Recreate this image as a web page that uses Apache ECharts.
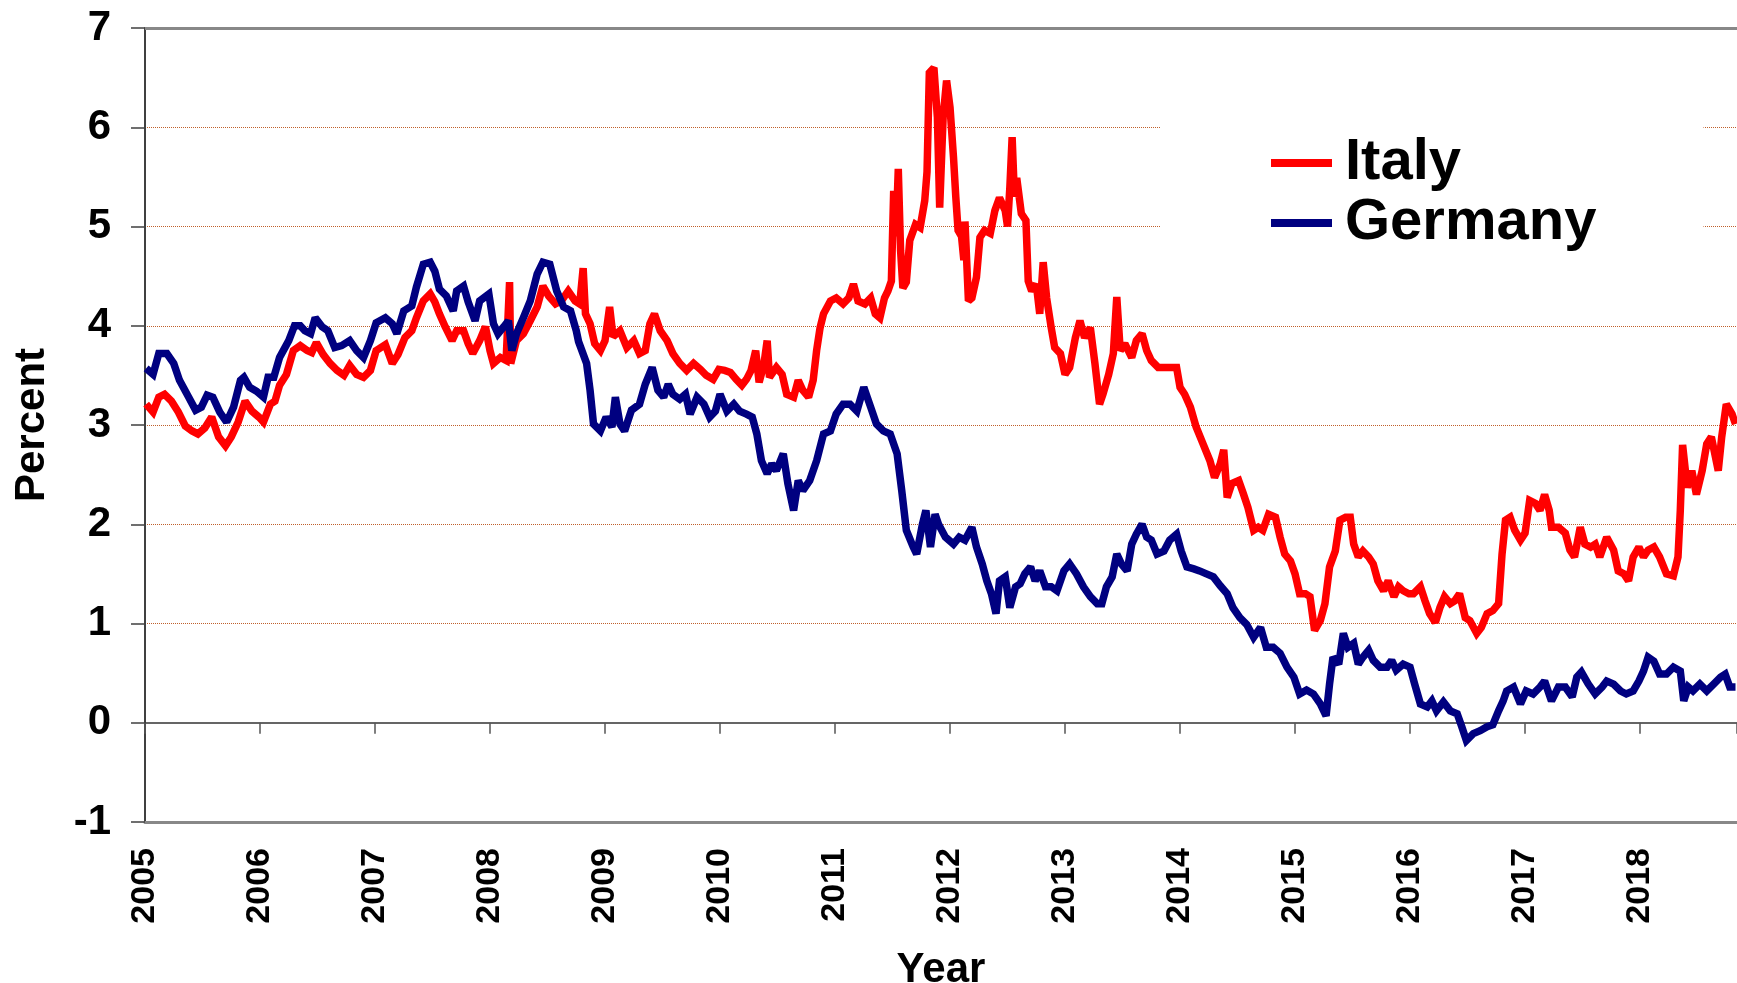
<!DOCTYPE html>
<html>
<head>
<meta charset="utf-8">
<title>Italy vs Germany</title>
<script src="https://cdn.jsdelivr.net/npm/echarts@6/dist/echarts.min.js"></script>
<style>
  html, body { margin: 0; padding: 0; background: #fff; }
  #chart { width: 1737px; height: 983px; }
</style>
</head>
<body>
<div id="chart"></div>
<script>
var seriesNames = ['Italy', 'Germany'];
var yearLabels = [2005, 2006, 2007, 2008, 2009, 2010, 2011, 2012, 2013, 2014, 2015, 2016, 2017, 2018];
var percentTicks = [-1, 0, 1, 2, 3, 4, 5, 6, 7];

// [year, percent]
var italy = [
  [2005.01,3.21],[2005.07,3.13],[2005.12,3.28],[2005.17,3.31],[2005.23,3.24],[2005.29,3.13],[2005.35,2.99],[2005.41,2.94],
  [2005.46,2.91],[2005.52,2.97],[2005.58,3.08],[2005.64,2.88],[2005.70,2.79],[2005.75,2.88],[2005.81,3.03],[2005.87,3.24],
  [2005.93,3.14],[2005.99,3.08],[2006.03,3.03],[2006.09,3.21],[2006.13,3.24],[2006.17,3.40],[2006.23,3.51],[2006.29,3.75],
  [2006.35,3.80],[2006.41,3.75],[2006.45,3.73],[2006.49,3.83],[2006.55,3.71],[2006.61,3.62],[2006.67,3.55],[2006.73,3.50],
  [2006.78,3.60],[2006.84,3.51],[2006.90,3.48],[2006.96,3.55],[2007.01,3.75],[2007.09,3.81],[2007.15,3.62],[2007.20,3.71],
  [2007.26,3.88],[2007.32,3.95],[2007.36,4.08],[2007.42,4.25],[2007.48,4.32],[2007.52,4.24],[2007.56,4.12],[2007.61,3.99],
  [2007.67,3.85],[2007.71,3.95],[2007.77,3.95],[2007.81,3.82],[2007.85,3.72],[2007.91,3.85],[2007.96,3.99],[2008.00,3.75],
  [2008.03,3.62],[2008.09,3.68],[2008.14,3.65],[2008.17,4.44],[2008.18,3.62],[2008.23,3.85],[2008.29,3.92],[2008.35,4.05],
  [2008.41,4.19],[2008.46,4.40],[2008.51,4.30],[2008.57,4.22],[2008.62,4.25],[2008.68,4.35],[2008.74,4.25],[2008.78,4.22],
  [2008.81,4.58],[2008.83,4.12],[2008.87,4.02],[2008.91,3.82],[2008.96,3.75],[2009.00,3.85],[2009.04,4.19],[2009.07,3.89],
  [2009.13,3.95],[2009.19,3.78],[2009.25,3.85],[2009.30,3.72],[2009.35,3.75],[2009.39,4.02],[2009.43,4.12],[2009.48,3.95],
  [2009.54,3.85],[2009.59,3.72],[2009.65,3.62],[2009.71,3.55],[2009.77,3.62],[2009.83,3.56],[2009.88,3.50],[2009.94,3.46],
  [2009.99,3.56],[2010.04,3.55],[2010.09,3.53],[2010.14,3.46],[2010.19,3.40],[2010.23,3.46],[2010.27,3.55],[2010.31,3.75],
  [2010.34,3.43],[2010.38,3.60],[2010.41,3.85],[2010.43,3.48],[2010.49,3.58],[2010.54,3.51],[2010.58,3.31],[2010.64,3.28],
  [2010.68,3.45],[2010.72,3.35],[2010.77,3.28],[2010.81,3.45],[2010.84,3.75],[2010.87,3.98],[2010.90,4.12],[2010.96,4.25],
  [2011.01,4.28],[2011.07,4.22],[2011.12,4.28],[2011.16,4.42],[2011.20,4.25],[2011.26,4.22],[2011.31,4.28],[2011.35,4.12],
  [2011.39,4.08],[2011.43,4.28],[2011.46,4.35],[2011.49,4.45],[2011.51,5.36],[2011.53,4.90],[2011.55,5.58],[2011.57,4.76],
  [2011.59,4.38],[2011.62,4.44],[2011.65,4.86],[2011.70,5.02],[2011.74,4.99],[2011.78,5.26],[2011.80,5.55],[2011.82,6.55],
  [2011.86,6.60],[2011.89,6.10],[2011.91,5.19],[2011.94,6.10],[2011.97,6.47],[2012.00,6.20],[2012.03,5.70],[2012.05,5.30],
  [2012.07,4.96],[2012.10,4.90],[2012.12,4.66],[2012.13,5.05],[2012.16,4.25],[2012.19,4.28],[2012.23,4.49],[2012.26,4.89],
  [2012.30,4.96],[2012.35,4.93],[2012.39,5.16],[2012.43,5.29],[2012.48,5.16],[2012.50,5.00],[2012.52,5.39],[2012.54,5.90],
  [2012.56,5.30],[2012.58,5.49],[2012.62,5.13],[2012.66,5.06],[2012.68,4.45],[2012.71,4.35],[2012.75,4.42],[2012.78,4.12],
  [2012.81,4.64],[2012.84,4.28],[2012.88,3.98],[2012.91,3.78],[2012.96,3.72],[2013.00,3.51],[2013.04,3.58],[2013.09,3.88],
  [2013.13,4.05],[2013.17,3.88],[2013.22,3.98],[2013.26,3.62],[2013.30,3.21],[2013.33,3.31],[2013.38,3.51],[2013.42,3.72],
  [2013.45,4.29],[2013.48,3.75],[2013.52,3.82],[2013.58,3.68],[2013.62,3.85],[2013.67,3.92],[2013.71,3.75],[2013.75,3.65],
  [2013.81,3.58],[2013.87,3.58],[2013.93,3.58],[2013.97,3.58],[2014.00,3.38],[2014.04,3.31],[2014.09,3.18],[2014.14,2.98],
  [2014.20,2.81],[2014.26,2.64],[2014.30,2.47],[2014.35,2.61],[2014.38,2.75],[2014.41,2.27],[2014.45,2.41],[2014.51,2.44],
  [2014.55,2.31],[2014.59,2.17],[2014.64,1.94],[2014.68,1.97],[2014.72,1.94],[2014.77,2.10],[2014.83,2.07],[2014.87,1.87],
  [2014.91,1.70],[2014.96,1.63],[2015.00,1.50],[2015.04,1.30],[2015.09,1.30],[2015.13,1.27],[2015.17,0.93],[2015.22,1.03],
  [2015.26,1.20],[2015.30,1.57],[2015.35,1.73],[2015.39,2.04],[2015.44,2.07],[2015.48,2.07],[2015.51,1.80],[2015.55,1.67],
  [2015.59,1.73],[2015.64,1.67],[2015.68,1.60],[2015.72,1.43],[2015.77,1.33],[2015.81,1.43],[2015.86,1.27],[2015.90,1.37],
  [2015.94,1.33],[2015.99,1.30],[2016.03,1.30],[2016.09,1.37],[2016.13,1.23],[2016.17,1.10],[2016.22,1.01],[2016.26,1.16],
  [2016.30,1.27],[2016.35,1.20],[2016.39,1.23],[2016.43,1.30],[2016.48,1.06],[2016.52,1.03],[2016.58,0.90],[2016.62,0.96],
  [2016.67,1.10],[2016.72,1.13],[2016.77,1.20],[2016.80,1.70],[2016.83,2.04],[2016.87,2.07],[2016.91,1.94],[2016.96,1.84],
  [2017.00,1.91],[2017.04,2.24],[2017.09,2.21],[2017.13,2.14],[2017.17,2.30],[2017.21,2.14],[2017.23,1.97],[2017.29,1.97],
  [2017.35,1.91],[2017.39,1.74],[2017.43,1.67],[2017.48,1.97],[2017.52,1.80],[2017.57,1.77],[2017.61,1.80],[2017.65,1.67],
  [2017.71,1.87],[2017.77,1.74],[2017.81,1.53],[2017.86,1.50],[2017.90,1.43],[2017.94,1.67],[2017.99,1.77],[2018.03,1.67],
  [2018.07,1.74],[2018.12,1.77],[2018.17,1.67],[2018.23,1.50],[2018.29,1.48],[2018.33,1.67],[2018.35,2.14],[2018.37,2.80],
  [2018.41,2.37],[2018.45,2.54],[2018.49,2.30],[2018.54,2.54],[2018.58,2.81],[2018.62,2.88],[2018.68,2.54],[2018.71,2.88],
  [2018.75,3.21],[2018.80,3.11],[2018.83,3.01]
];

var germany = [
  [2005.01,3.57],[2005.07,3.51],[2005.12,3.72],[2005.19,3.72],[2005.25,3.62],[2005.30,3.45],[2005.38,3.28],[2005.44,3.15],
  [2005.49,3.18],[2005.54,3.30],[2005.59,3.28],[2005.65,3.13],[2005.71,3.03],[2005.77,3.18],[2005.83,3.45],[2005.86,3.48],
  [2005.91,3.38],[2005.97,3.34],[2006.03,3.28],[2006.07,3.48],[2006.12,3.48],[2006.17,3.68],[2006.25,3.85],[2006.30,4.00],
  [2006.35,4.00],[2006.39,3.95],[2006.44,3.92],[2006.48,4.08],[2006.54,3.99],[2006.59,3.95],[2006.65,3.78],[2006.71,3.80],
  [2006.78,3.85],[2006.84,3.75],[2006.90,3.68],[2006.96,3.85],[2007.01,4.03],[2007.09,4.08],[2007.15,4.02],[2007.19,3.92],
  [2007.25,4.15],[2007.32,4.20],[2007.36,4.39],[2007.42,4.62],[2007.48,4.64],[2007.52,4.55],[2007.56,4.37],[2007.62,4.30],
  [2007.68,4.15],[2007.71,4.35],[2007.77,4.40],[2007.81,4.24],[2007.87,4.05],[2007.91,4.25],[2007.99,4.32],[2008.03,4.02],
  [2008.07,3.92],[2008.12,3.99],[2008.16,4.05],[2008.19,3.75],[2008.23,3.92],[2008.29,4.08],[2008.35,4.25],[2008.41,4.52],
  [2008.46,4.64],[2008.52,4.62],[2008.58,4.35],[2008.64,4.19],[2008.70,4.15],[2008.75,3.95],[2008.77,3.84],[2008.84,3.62],
  [2008.87,3.35],[2008.90,3.01],[2008.96,2.94],[2009.01,3.08],[2009.06,2.98],[2009.09,3.28],[2009.13,3.01],[2009.17,2.94],
  [2009.23,3.15],[2009.30,3.21],[2009.35,3.41],[2009.41,3.58],[2009.46,3.35],[2009.51,3.28],[2009.55,3.41],[2009.59,3.31],
  [2009.65,3.26],[2009.70,3.31],[2009.74,3.11],[2009.80,3.28],[2009.86,3.21],[2009.91,3.08],[2009.96,3.14],[2010.00,3.31],
  [2010.06,3.14],[2010.12,3.21],[2010.17,3.14],[2010.23,3.11],[2010.28,3.08],[2010.32,2.91],[2010.36,2.64],[2010.41,2.51],
  [2010.45,2.61],[2010.49,2.54],[2010.55,2.71],[2010.59,2.41],[2010.64,2.14],[2010.68,2.44],[2010.72,2.34],[2010.78,2.44],
  [2010.84,2.64],[2010.90,2.91],[2010.96,2.94],[2011.01,3.11],[2011.07,3.21],[2011.13,3.21],[2011.19,3.14],[2011.25,3.38],
  [2011.31,3.18],[2011.36,3.01],[2011.42,2.94],[2011.48,2.91],[2011.54,2.71],[2011.58,2.34],[2011.62,1.94],[2011.68,1.77],
  [2011.71,1.70],[2011.76,2.00],[2011.79,2.14],[2011.83,1.77],[2011.87,2.10],[2011.90,2.00],[2011.96,1.87],[2012.03,1.80],
  [2012.08,1.87],[2012.13,1.84],[2012.19,1.97],[2012.23,1.77],[2012.28,1.60],[2012.32,1.43],[2012.36,1.30],[2012.40,1.10],
  [2012.43,1.43],[2012.48,1.47],[2012.52,1.16],[2012.57,1.37],[2012.61,1.40],[2012.65,1.50],[2012.70,1.57],[2012.74,1.43],
  [2012.78,1.53],[2012.83,1.37],[2012.88,1.37],[2012.93,1.33],[2012.99,1.53],[2013.04,1.60],[2013.10,1.50],[2013.16,1.37],
  [2013.22,1.27],[2013.28,1.20],[2013.32,1.20],[2013.36,1.37],[2013.41,1.47],[2013.45,1.70],[2013.49,1.60],[2013.54,1.53],
  [2013.58,1.80],[2013.62,1.90],[2013.67,2.00],[2013.71,1.87],[2013.75,1.84],[2013.80,1.70],[2013.86,1.73],[2013.91,1.84],
  [2013.97,1.90],[2014.01,1.73],[2014.06,1.57],[2014.12,1.55],[2014.17,1.53],[2014.23,1.50],[2014.29,1.47],[2014.35,1.38],
  [2014.41,1.30],[2014.46,1.16],[2014.52,1.06],[2014.58,0.99],[2014.64,0.86],[2014.70,0.96],[2014.75,0.76],[2014.81,0.76],
  [2014.87,0.70],[2014.93,0.56],[2014.99,0.46],[2015.04,0.29],[2015.10,0.33],[2015.16,0.29],[2015.22,0.19],[2015.27,0.07],
  [2015.30,0.39],[2015.33,0.66],[2015.38,0.59],[2015.42,0.90],[2015.46,0.76],[2015.51,0.80],[2015.55,0.59],[2015.59,0.66],
  [2015.64,0.73],[2015.68,0.63],[2015.74,0.56],[2015.80,0.56],[2015.84,0.63],[2015.88,0.53],[2015.94,0.59],[2016.00,0.56],
  [2016.04,0.39],[2016.09,0.19],[2016.15,0.16],[2016.19,0.22],[2016.23,0.12],[2016.29,0.21],[2016.35,0.12],[2016.41,0.09],
  [2016.45,-0.04],[2016.49,-0.18],[2016.55,-0.11],[2016.61,-0.08],[2016.67,-0.04],[2016.72,-0.02],[2016.77,0.12],[2016.81,0.22],
  [2016.84,0.32],[2016.90,0.36],[2016.96,0.19],[2017.01,0.32],[2017.07,0.29],[2017.13,0.36],[2017.17,0.42],[2017.23,0.22],
  [2017.29,0.36],[2017.35,0.36],[2017.41,0.26],[2017.45,0.46],[2017.49,0.51],[2017.55,0.39],[2017.61,0.29],[2017.67,0.36],
  [2017.71,0.42],[2017.77,0.39],[2017.83,0.32],[2017.88,0.29],[2017.94,0.32],[2017.99,0.42],[2018.03,0.52],[2018.07,0.66],
  [2018.12,0.62],[2018.17,0.49],[2018.23,0.49],[2018.29,0.56],[2018.35,0.52],[2018.38,0.22],[2018.42,0.36],[2018.46,0.32],
  [2018.52,0.39],[2018.58,0.32],[2018.64,0.39],[2018.70,0.46],[2018.74,0.49],[2018.78,0.36],[2018.83,0.36]
];

var font = "'Liberation Sans', Arial, sans-serif";
var gridColor = '#c0602c';
var splitColors = percentTicks.map(function (v) {
  return (v >= 1 && v <= 6) ? gridColor : 'rgba(0,0,0,0)';
});
var xMin = 2005, xMax = 2018.843;

var myChart = echarts.init(document.getElementById('chart'));
var option = {
  animation: false,
  backgroundColor: '#fff',
  textStyle: { fontFamily: font },
  color: ['#ff0000', '#000080'],
  grid: { left: 145, top: 28, right: 0, bottom: 161, containLabel: false, outerBoundsMode: 'none' },
  legend: {
    orient: 'vertical',
    left: 1160,
    top: 92,
    padding: [41, 107, 49, 111],
    backgroundColor: '#fff',
    itemGap: 0,
    itemWidth: 61,
    itemHeight: 8,
    icon: 'rect',
    data: seriesNames,
    textStyle: { fontSize: 58, fontWeight: 'bold', color: '#000', fontFamily: font, lineHeight: 54, padding: [6, 0, 0, 8] }
  },
  xAxis: [{
    type: 'value',
    position: 'bottom',
    min: xMin,
    max: xMax,
    interval: 1,
    name: 'Year',
    nameLocation: 'middle',
    nameGap: 127,
    nameTextStyle: { fontSize: 42, fontWeight: 'bold', color: '#000', fontFamily: font },
    axisLine: { show: true, onZero: false, lineStyle: { color: '#888', width: 3 } },
    axisTick: { show: false },
    splitLine: { show: false },
    axisLabel: {
      rotate: 90,
      margin: 26,
      fontSize: 34,
      fontWeight: 'bold',
      color: '#000',
      fontFamily: font,
      formatter: function (v) { return yearLabels.indexOf(v) >= 0 ? String(v) : ''; }
    }
  }, {
    type: 'value',
    position: 'bottom',
    min: xMin,
    max: xMax,
    interval: 1,
    axisLine: { show: true, onZero: true, lineStyle: { color: '#333', width: 1.5 } },
    axisTick: { show: true, length: 11, lineStyle: { color: '#555', width: 1.5 } },
    axisLabel: { show: false },
    splitLine: { show: false }
  }],
  yAxis: {
    type: 'value',
    min: -1,
    max: 7,
    interval: 1,
    name: 'Percent',
    nameLocation: 'middle',
    nameGap: 92,
    nameTextStyle: { fontSize: 42, fontWeight: 'bold', color: '#000', fontFamily: font },
    axisLine: { show: true, lineStyle: { color: '#404040', width: 2 } },
    axisTick: { show: true, length: 14, lineStyle: { color: '#404040', width: 1.5 } },
    axisLabel: { margin: 34, fontSize: 42, fontWeight: 'bold', color: '#000', fontFamily: font },
    splitLine: {
      show: true,
      showMinLine: true,
      showMaxLine: true,
      lineStyle: { color: splitColors, width: 1, type: 'dotted' }
    }
  },
  series: [{
    name: seriesNames[0],
    type: 'line',
    data: italy,
    showSymbol: false,
    symbol: 'none',
    lineStyle: { width: 7.5, color: '#ff0000', join: 'miter', miterLimit: 2 },
    markLine: {
      silent: true,
      symbol: 'none',
      label: { show: false },
      lineStyle: { color: '#888', width: 3, type: 'solid' },
      data: [{ yAxis: 7 }]
    }
  }, {
    name: seriesNames[1],
    type: 'line',
    data: germany,
    showSymbol: false,
    symbol: 'none',
    lineStyle: { width: 7.5, color: '#000080', join: 'miter', miterLimit: 2 }
  }]
};
myChart.setOption(option);
</script>
</body>
</html>
